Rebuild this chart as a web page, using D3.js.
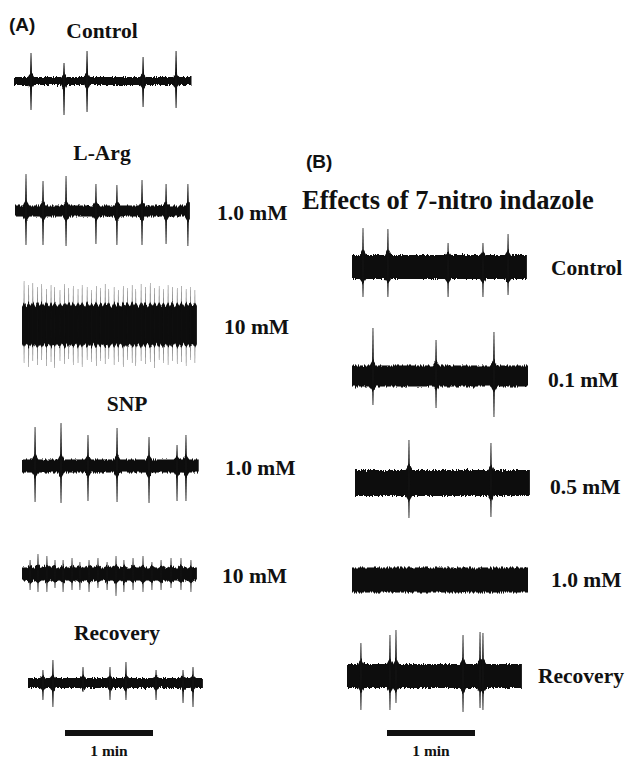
<!DOCTYPE html>
<html><head><meta charset="utf-8">
<script src="https://cdn.jsdelivr.net/npm/d3@7"></script>
<style>
html,body{margin:0;padding:0;background:#fff;}
svg{display:block;}
.lab{font-family:"Liberation Serif","Times New Roman",serif;font-weight:bold;fill:#111;}
.pan{font-family:"Liberation Sans",Arial,sans-serif;font-weight:bold;fill:#111;}
</style></head><body>
<svg id="c" width="632" height="760"></svg>
<script>
// ---------------- DATA ----------------
// trace order: A Control, A L-Arg 1.0, A L-Arg 10, A SNP 1.0, A SNP 10, A Recovery,
//              B Control, B 0.1, B 0.5, B 1.0, B Recovery
const traceLabels = ["", "1.0 mM", "10 mM", "1.0 mM", "10 mM", "",
                     "Control", "0.1 mM", "0.5 mM", "1.0 mM", "Recovery"];
const groupTitles = ["Control", "L-Arg", "SNP", "Recovery"];
const panelTitles = ["(A)", "(B)"];
const panelBTitle = "Effects of 7-nitro indazole";
const scaleBarLabel = "1 min";
const scaleBarSeconds = 60;

// recording length (s)
const durations = [121, 119.3, 119.3, 120.7, 119.3, 119.3, 119.3, 120, 119.3, 120, 119.3];
// background noise half-amplitude (a.u.)
const noiseAmp = [4, 5.5, 17, 6.5, 6.5, 5, 12, 10.5, 13, 12.5, 12];

// spike (burst) times in seconds
const spikeTimes = [
  [11.6, 34.1, 49.8, 88.0, 110.5],
  [7.5, 19.1, 34.8, 55.2, 69.5, 86.6, 103.0, 117.9],
  [1.4, 4.6, 7.4, 10.6, 13.5, 16.6, 19.8, 22.3, 25.9, 29.1, 31.9, 34.9, 38.2, 41.0, 44.4, 47.3,
   50.6, 53.4, 56.7, 59.2, 62.8, 65.6, 69.0, 71.8, 75.1, 77.6, 81.2, 84.1, 87.4, 90.2, 93.5, 96.4,
   99.6, 102.5, 105.8, 108.6, 111.9, 114.8, 117.9],
  [8.9, 26.6, 45.0, 64.8, 86.6, 105.7, 111.8],
  [5.5, 10.9, 17.0, 22.5, 28.0, 34.1, 39.5, 45.7, 51.8, 58.0, 64.1, 69.5, 75.7, 82.5, 88.6, 94.8, 101.6, 108.4, 115.2],
  [10.2, 17.0, 37.5, 55.9, 66.8, 87.3, 105.7, 112.5],
  [7.5, 24.5, 65.5, 89.3, 106.4],
  [14.3, 57.3, 96.8],
  [36.8, 92.7],
  [],
  [9.5, 29.3, 33.4, 79.1, 90.7, 92.7]
];
// upward spike amplitude (a.u.)
const spikeUp = [
  [28, 18, 30, 24, 30],
  [37, 30, 35, 27, 26, 31, 27, 27],
  [44, 40, 42, 38, 41, 36, 40, 38, 35, 41, 37, 39, 36, 40, 38, 35, 39, 37, 41, 36,
   38, 35, 39, 37, 40, 36, 41, 38, 42, 37, 39, 36, 40, 38, 37, 39, 36, 38, 35],
  [39, 43, 31, 38, 29, 21, 31],
  [14, 20, 18, 14, 14, 16, 12, 14, 16, 12, 18, 14, 16, 18, 12, 14, 16, 16, 14],
  [13, 23, 16, 16, 21, 13, 13, 16],
  [39, 38, 24, 24, 33],
  [48, 36, 44],
  [43, 40],
  [],
  [33, 41, 46, 41, 44, 43]
];
// downward spike amplitude (a.u.)
const spikeDown = [
  [29, 34, 31, 26, 27],
  [34, 34, 35, 33, 34, 34, 33, 35],
  [38, 42, 36, 40, 35, 41, 37, 43, 36, 39, 34, 40, 38, 42, 35, 37, 41, 36, 39, 34,
   40, 37, 42, 35, 38, 41, 36, 39, 37, 43, 35, 38, 40, 36, 39, 37, 41, 35, 38],
  [36, 37, 35, 36, 37, 35, 35],
  [16, 18, 18, 14, 18, 16, 16, 18, 14, 16, 22, 18, 16, 18, 16, 16, 14, 16, 18],
  [17, 24, 9, 17, 17, 17, 20, 24],
  [30, 30, 30, 30, 28],
  [29, 32, 41],
  [35, 34],
  [],
  [34, 34, 27, 36, 32, 34]
];

// ---------------- LAYOUT (positions / styles) ----------------
const pxPerMinute = 88;
const layout = [
  {x0: 14, cy: 81, sw: 1.2}, {x0: 15, cy: 211, sw: 1.1}, {x0: 22, cy: 325, sw: 0.55},
  {x0: 22, cy: 466, sw: 1.1}, {x0: 22, cy: 574, sw: 0.9}, {x0: 28, cy: 683, sw: 1.1},
  {x0: 352, cy: 267, sw: 1.1}, {x0: 352, cy: 376, sw: 1.1}, {x0: 355, cy: 483, sw: 1.1},
  {x0: 352, cy: 580, sw: 1.1}, {x0: 347, cy: 676, sw: 1.1}
];
const labelPos = [null, [217, 220], [224, 334], [225, 475], [222, 583], null,
                  [551, 275], [548, 387], [550, 494], [551, 587], [538, 683]];
const groupTitlePos = [[102, 38], [102, 160], [127, 411], [117, 640]];

const svg = d3.select("#c");
const defs = svg.append("defs");
const f = defs.append("filter").attr("id", "rag")
  .attr("x", "-3%").attr("y", "-60%").attr("width", "106%").attr("height", "220%");
f.append("feTurbulence").attr("type", "fractalNoise").attr("baseFrequency", "0.9 0.05")
  .attr("numOctaves", 2).attr("seed", 7).attr("result", "t");
f.append("feColorMatrix").attr("in", "t").attr("type", "matrix")
  .attr("values", "0 0 0 0 0.5  0 1 0 0 0  0 0 0 0 0  0 0 0 0 1").attr("result", "tm");
f.append("feDisplacementMap").attr("in", "SourceGraphic").attr("in2", "tm")
  .attr("scale", 5).attr("xChannelSelector", "R").attr("yChannelSelector", "G");

layout.forEach((L, i) => {
  const dur = durations[i];
  const x = d3.scaleLinear().domain([0, 60]).range([L.x0, L.x0 + pxPerMinute]);
  const y = d3.scaleLinear().domain([-50, 50]).range([L.cy + 50, L.cy - 50]);
  const st = spikeTimes[i], up = spikeUp[i], dn = spikeDown[i];
  const h = noiseAmp[i];
  const w = 2.2;
  const bump = (t, amps) => {
    let e = 0;
    st.forEach((s, k) => {
      const d = Math.abs(t - s);
      if (d < w) e = Math.max(e, (1 - d / w) * Math.min(6, Math.max(2, amps[k] * 0.16)));
    });
    return e;
  };
  const samples = d3.range(0, dur + 0.001, 0.25);
  const area = d3.area()
    .x(t => x(t))
    .y0(t => y(-(h + bump(t, dn))))
    .y1(t => y(h + bump(t, up)));
  const g = svg.append("g");
  g.append("path").attr("d", area(samples)).attr("fill", "#0b0b0b").attr("filter", "url(#rag)");
  const sw = L.sw;
  const spikeG = g.append("g").attr("fill", "#111").attr("fill-opacity", i === 2 ? 0.75 : 1);
  st.forEach((s, k) => {
    const xs = x(s);
    const yu = y(up[k]), yd = y(-dn[k]), yc = y(0);
    spikeG.append("path").attr("d",
      `M${xs - sw},${yc} L${xs - sw * 0.35},${yu} L${xs + sw * 0.35},${yu} L${xs + sw},${yc} Z`);
    spikeG.append("path").attr("d",
      `M${xs - sw},${yc} L${xs - sw * 0.35},${yd} L${xs + sw * 0.35},${yd} L${xs + sw},${yc} Z`);
  });
  if (labelPos[i]) {
    svg.append("text").attr("class", "lab").attr("x", labelPos[i][0]).attr("y", labelPos[i][1])
      .attr("font-size", 21.5).text(traceLabels[i]);
  }
});

groupTitles.forEach((t, k) => {
  svg.append("text").attr("class", "lab").attr("x", groupTitlePos[k][0]).attr("y", groupTitlePos[k][1])
    .attr("text-anchor", "middle").attr("font-size", 21.5).text(t);
});

svg.append("text").attr("class", "pan").attr("x", 9).attr("y", 31).attr("font-size", 19).text(panelTitles[0]);
svg.append("text").attr("class", "pan").attr("x", 306).attr("y", 168).attr("font-size", 19).text(panelTitles[1]);
svg.append("text").attr("class", "lab").attr("x", 302).attr("y", 209).attr("font-size", 26.5).text(panelBTitle);

// scale bars (1 min)
[[65, 733, 109], [387, 733, 431]].forEach(([x0, yb, cx]) => {
  const sx = d3.scaleLinear().domain([0, 60]).range([x0, x0 + pxPerMinute]);
  svg.append("rect").attr("x", sx(0)).attr("y", yb - 3).attr("width", sx(scaleBarSeconds) - sx(0))
    .attr("height", 6).attr("fill", "#111");
  svg.append("text").attr("class", "lab").attr("x", cx).attr("y", 756).attr("text-anchor", "middle")
    .attr("font-size", 15.5).text(scaleBarLabel);
});
</script></body></html>
